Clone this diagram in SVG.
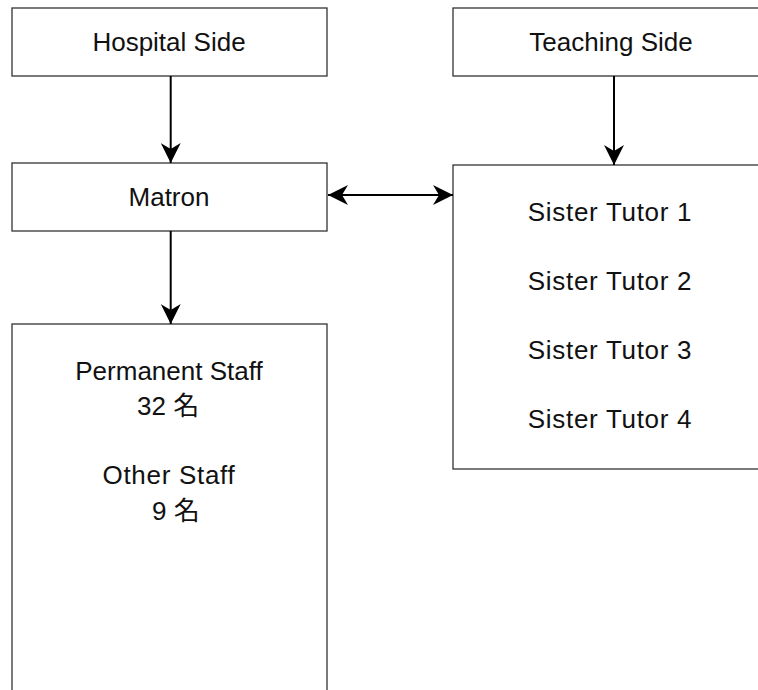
<svg xmlns="http://www.w3.org/2000/svg" width="758" height="690" viewBox="0 0 758 690">
<style>
.box{fill:#fff;stroke:#333;stroke-width:1.3}
.lbl{font-family:"Liberation Sans","Noto Sans CJK JP",sans-serif;font-size:26px;fill:#111;text-anchor:middle}
.st{text-anchor:start}
.wide{letter-spacing:0.7px}
.conn{stroke:#000;stroke-width:2;fill:none}
</style>
<defs>
<marker id="ah" markerUnits="userSpaceOnUse" markerWidth="20" markerHeight="20" viewBox="0 0 20 20" refX="20" refY="10" orient="auto-start-reverse">
<path d="M0,0 L20,10 L0,20 L6,10 Z" fill="#000"/>
</marker>
</defs>
<rect width="758" height="690" fill="#fff"/>
<g id="hospital">
<rect class="box" x="12" y="8" width="315" height="68"/>
<text class="lbl" x="169" y="51">Hospital Side</text>
</g>
<g id="teaching">
<rect class="box" x="453" y="8" width="322" height="68"/>
<text class="lbl" x="611" y="51">Teaching Side</text>
</g>
<g id="matron">
<rect class="box" x="12" y="163" width="315" height="68"/>
<text class="lbl" x="169" y="206">Matron</text>
</g>
<g id="tutors">
<rect class="box" x="453" y="165" width="322" height="304"/>
<text class="lbl wide" x="610" y="221">Sister Tutor 1</text>
<text class="lbl wide" x="610" y="290">Sister Tutor 2</text>
<text class="lbl wide" x="610" y="359">Sister Tutor 3</text>
<text class="lbl wide" x="610" y="428">Sister Tutor 4</text>
</g>
<g id="staff">
<rect class="box" x="12" y="324" width="315" height="380"/>
<text class="lbl" x="169" y="380">Permanent Staff</text>
<text class="lbl st" x="137" y="415">32 名</text>
<text class="lbl wide" x="169" y="484">Other Staff</text>
<text class="lbl st" x="152" y="520">9 名</text>
</g>
<g id="connectors">
<line class="conn" x1="170.7" y1="76" x2="170.7" y2="163" marker-end="url(#ah)"/>
<line class="conn" x1="170.7" y1="231" x2="170.7" y2="324" marker-end="url(#ah)"/>
<line class="conn" x1="614" y1="76" x2="614" y2="165" marker-end="url(#ah)"/>
<line class="conn" x1="328" y1="195" x2="453" y2="195" marker-start="url(#ah)" marker-end="url(#ah)"/>
</g>
</svg>
